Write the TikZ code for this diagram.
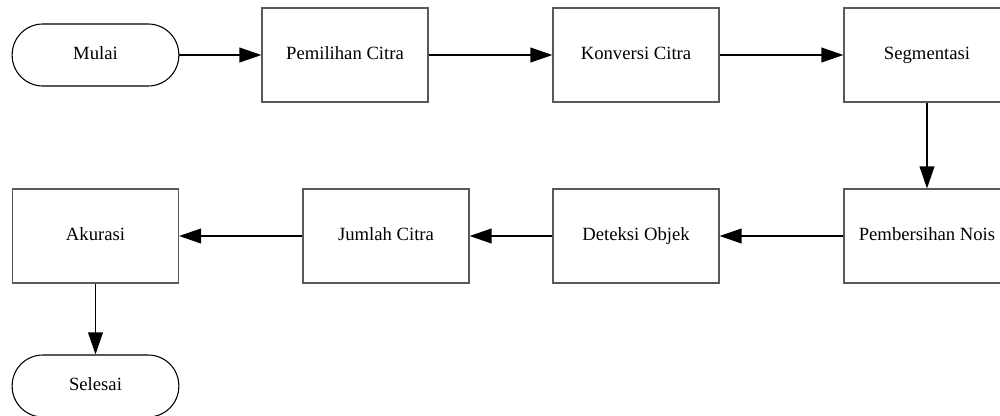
\documentclass[tikz,border=0pt]{standalone}
\usepackage{fontspec}
\setmainfont{Liberation Serif}
\usetikzlibrary{arrows.meta}
\tikzset{
    proses/.style={draw=black!65, line width=0.8pt, minimum width=124.5pt,
        minimum height=70.5pt, inner sep=0pt, text height=9.5pt, text depth=3pt,
        font=\fontsize{14}{16}\selectfont},
    terminal/.style={draw, line width=0.8pt, rounded corners=23pt, minimum width=125pt,
        minimum height=46.5pt, inner sep=0pt, text height=9.5pt, text depth=3pt,
        font=\fontsize{14}{16}\selectfont},
    panah/.style={-{Triangle[length=16.5pt,width=11pt]}, line width=1.2pt}
}
\newcommand{\kotak}[3]{
    \node[proses] (#1) at (#2) {#3};
}

\begin{document}
\begin{tikzpicture}[x=0.75pt,y=-0.75pt]
    \clip (0,0) rectangle (1000,415);

    % baris atas
    \node[terminal] (mulai) at (95.5,55) {Mulai};
    \kotak{pemilihan}{345,55}{Pemilihan Citra}
    \kotak{konversi}{636,55}{Konversi Citra}
    \kotak{segmentasi}{927,55}{Segmentasi}

    % baris bawah
    \kotak{pembersihan}{927,236}{Pembersihan Nois}
    \kotak{deteksi}{636,236}{Deteksi Objek}
    \kotak{jumlah}{386,236}{Jumlah Citra}
    \kotak{akurasi}{95.5,236}{Akurasi}
    \node[terminal] (selesai) at (95.5,386) {Selesai};

    \draw[panah] (mulai) -- (pemilihan);
    \draw[panah] (pemilihan) -- (konversi);
    \draw[panah] (konversi) -- (segmentasi);
    \draw[panah] (segmentasi) -- (pembersihan);
    \draw[panah] (pembersihan) -- (deteksi);
    \draw[panah] (deteksi) -- (jumlah);
    \draw[panah] (jumlah) -- (akurasi);
    \draw[panah] (akurasi) -- (selesai);
\end{tikzpicture}
\end{document}
